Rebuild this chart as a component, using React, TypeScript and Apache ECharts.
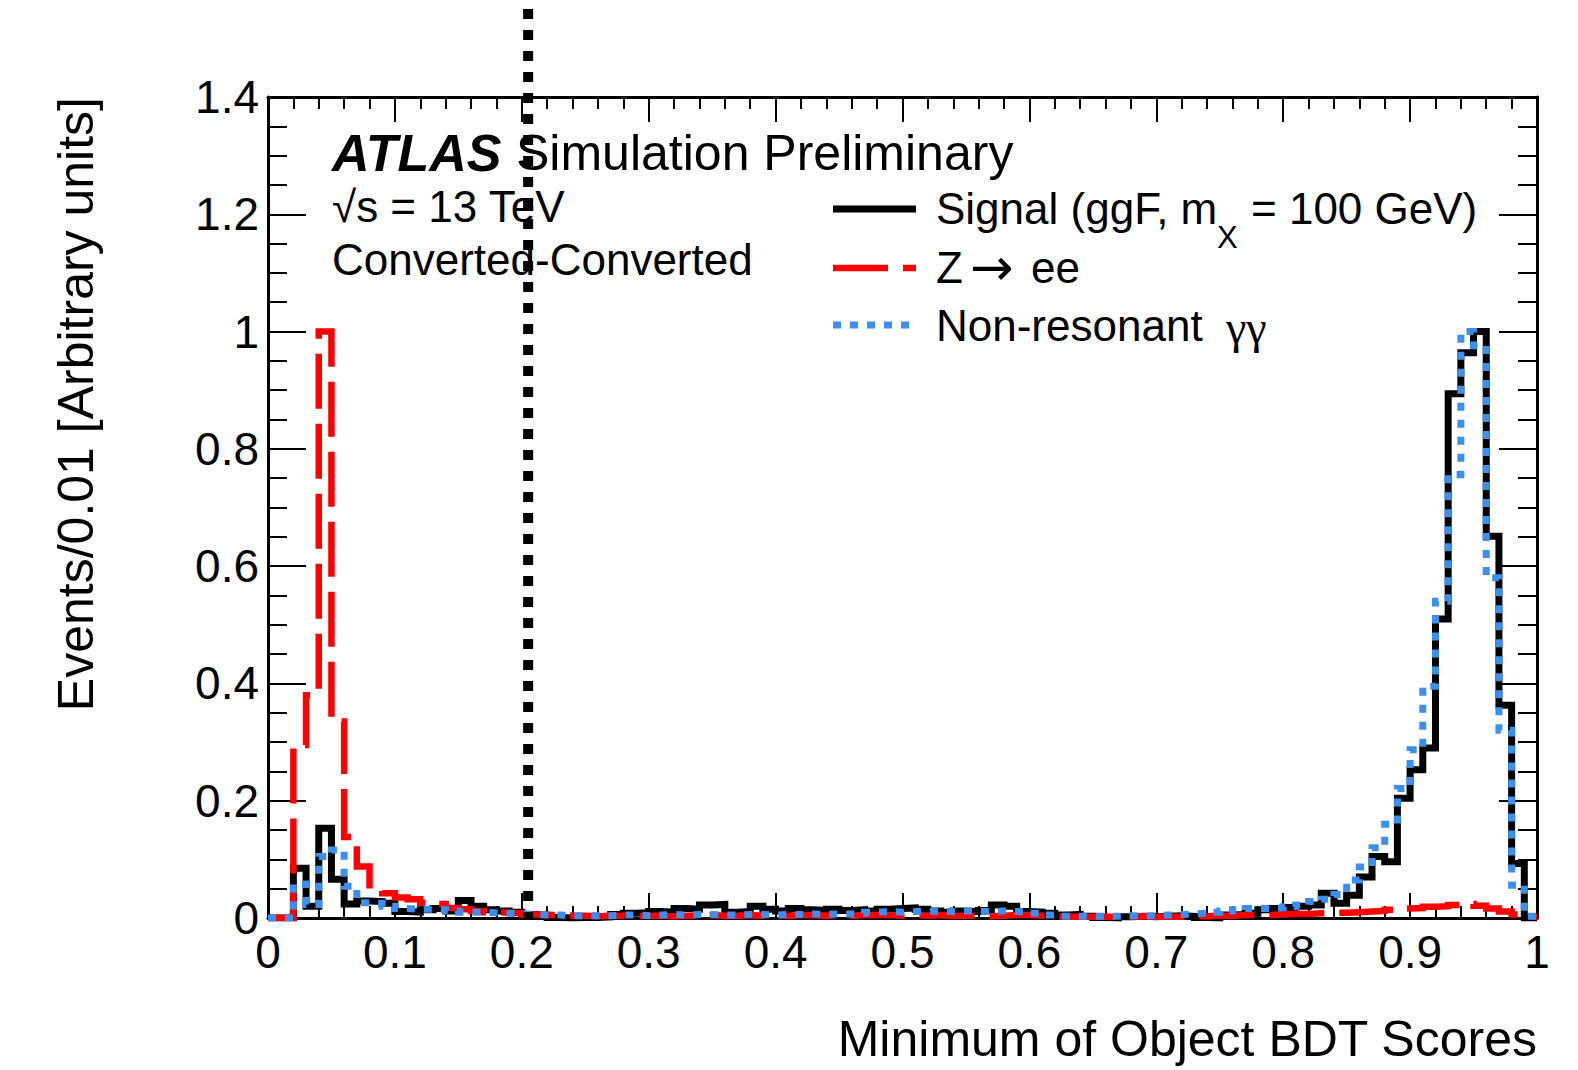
import React, { useEffect, useRef } from "react";
import * as echarts from "echarts";

// ---------- data ----------
const BIN_WIDTH = 0.01;
const X_MIN = 0;
const X_MAX = 1;
const X_INTERVAL = 0.1;
const Y_MIN = 0;
const Y_MAX = 1.4;
const Y_INTERVAL = 0.2;
const CUT_VALUE = 0.205;
const CUT_LINE_TOP = 1.55;

const seriesNames = ["Signal (ggF, m_X = 100 GeV)", "Z → ee", "Non-resonant γγ"];

const signalValues = [
  0, 0, 0.085, 0.02, 0.153, 0.066, 0.024, 0.029, 0.028, 0.025,
  0.011, 0.01, 0.014, 0.016, 0.012, 0.03, 0.02, 0.014, 0.012, 0.01,
  0.006, 0.005, 0.001, 0.0, 0.001, 0.001, 0.002, 0.006, 0.008, 0.009,
  0.011, 0.01, 0.016, 0.015, 0.022, 0.023, 0.01, 0.011, 0.02, 0.015,
  0.012, 0.016, 0.014, 0.013, 0.015, 0.013, 0.014, 0.012, 0.015, 0.016,
  0.017, 0.015, 0.012, 0.01, 0.012, 0.011, 0.013, 0.022, 0.02, 0.011,
  0.01, 0.008, 0.005, 0.006, 0.003, 0.001, 0.0, 0.002, 0.003, 0.002,
  0.003, 0.004, 0.003, 0.001, 0.0, 0.005, 0.006, 0.008, 0.014, 0.016,
  0.018, 0.02, 0.022, 0.042, 0.025, 0.039, 0.07, 0.105, 0.096, 0.204,
  0.253, 0.29, 0.51, 0.894, 0.964, 1.0, 0.651, 0.363, 0.093, 0.0,
];

const zeeValues = [
  0, 0, 0.295, 0.38, 1.0, 0.335, 0.138, 0.088, 0.05, 0.042,
  0.035, 0.032, 0.026, 0.024, 0.017, 0.015, 0.012, 0.01, 0.009, 0.008,
  0.006, 0.005, 0.005, 0.004, 0.004, 0.003, 0.004, 0.004, 0.003, 0.004,
  0.004, 0.003, 0.004, 0.004, 0.005, 0.004, 0.004, 0.005, 0.004, 0.005,
  0.004, 0.005, 0.005, 0.004, 0.005, 0.004, 0.005, 0.005, 0.005, 0.004,
  0.005, 0.004, 0.005, 0.004, 0.004, 0.004, 0.003, 0.004, 0.005, 0.005,
  0.004, 0.003, 0.002, 0.002, 0.002, 0.002, 0.002, 0.002, 0.003, 0.002,
  0.002, 0.002, 0.003, 0.003, 0.004, 0.004, 0.005, 0.005, 0.005, 0.006,
  0.007, 0.007, 0.008, 0.009, 0.009, 0.01, 0.011, 0.012, 0.014, 0.016,
  0.017, 0.019, 0.02, 0.022, 0.024, 0.021, 0.016, 0.011, 0.006, 0.002,
];

const nonresValues = [
  0, 0, 0.058, 0.023, 0.105, 0.116, 0.054, 0.026, 0.025, 0.02,
  0.016, 0.015, 0.015, 0.014, 0.012, 0.01, 0.01, 0.009, 0.008, 0.007,
  0.006, 0.005, 0.005, 0.004, 0.004, 0.004, 0.004, 0.005, 0.005, 0.004,
  0.005, 0.006, 0.005, 0.006, 0.006, 0.005, 0.005, 0.006, 0.006, 0.005,
  0.006, 0.006, 0.007, 0.006, 0.007, 0.007, 0.008, 0.01, 0.011, 0.01,
  0.011, 0.012, 0.011, 0.011, 0.012, 0.011, 0.011, 0.012, 0.011, 0.01,
  0.008, 0.005, 0.003, 0.003, 0.003, 0.003, 0.003, 0.004, 0.004, 0.004,
  0.005, 0.006, 0.007, 0.008, 0.01, 0.012, 0.014, 0.016, 0.016, 0.017,
  0.019, 0.022, 0.028, 0.032, 0.04, 0.065, 0.087, 0.12, 0.16, 0.221,
  0.287, 0.395, 0.54, 0.756, 1.0, 0.976, 0.58, 0.32, 0.056, 0.003,
];

// ---------- styling ----------
const FONT = "'Liberation Sans', Arial, Helvetica, sans-serif";
const SYMBOL_FONT = "'DejaVu Sans', 'Liberation Sans', sans-serif";
const GREEK_FONT = "'Liberation Serif', 'DejaVu Serif', serif";
const BLACK = "#000000";
const RED = "#ff0000";
const BLUE = "#3a8ff0";

function toSteps(values: number[]): number[][] {
  const pts = values.map((v, i) => [Number((i * BIN_WIDTH).toFixed(4)), v]);
  pts.push([X_MAX, values[values.length - 1]]);
  return pts;
}

function xAxisDef(position: "bottom" | "top", labels: boolean) {
  return {
    type: "value",
    position,
    min: X_MIN,
    max: X_MAX,
    interval: X_INTERVAL,
    axisLine: { show: true, onZero: false, lineStyle: { color: BLACK, width: 3 } },
    axisTick: { show: true, inside: true, length: 25, lineStyle: { color: BLACK, width: 2 } },
    minorTick: { show: true, splitNumber: 5, length: 12, lineStyle: { color: BLACK, width: 2 } },
    splitLine: { show: false },
    minorSplitLine: { show: false },
    axisLabel: {
      show: labels,
      color: BLACK,
      fontSize: 46,
      fontFamily: FONT,
      margin: 11,
      showMinLabel: true,
      showMaxLabel: true,
    },
  };
}

function yAxisDef(position: "left" | "right", labels: boolean) {
  return {
    type: "value",
    position,
    min: Y_MIN,
    max: Y_MAX,
    interval: Y_INTERVAL,
    axisLine: { show: true, onZero: false, lineStyle: { color: BLACK, width: 3 } },
    axisTick: { show: true, inside: true, length: 38, lineStyle: { color: BLACK, width: 2 } },
    minorTick: { show: true, splitNumber: 4, length: 19, lineStyle: { color: BLACK, width: 2 } },
    splitLine: { show: false },
    minorSplitLine: { show: false },
    axisLabel: {
      show: labels,
      color: BLACK,
      fontSize: 46,
      fontFamily: FONT,
      margin: 9,
      showMinLabel: true,
      showMaxLabel: true,
    },
  };
}

function histSeries(name: string, values: number[], color: string, width: number, dash: any, z: number) {
  return {
    name,
    type: "line",
    step: "end",
    data: toSteps(values),
    showSymbol: false,
    symbol: "none",
    xAxisIndex: 0,
    yAxisIndex: 0,
    z,
    lineStyle: { color, width, type: dash, cap: "butt", join: "miter" },
    emphasis: { disabled: true },
    silent: true,
  };
}

function textEl(text: string, x: number, y: number, size: number, extra: any = {}) {
  return {
    type: "text",
    x,
    y,
    z: 50,
    silent: true,
    style: {
      text,
      fill: BLACK,
      fontFamily: FONT,
      fontSize: size,
      textAlign: "left",
      textVerticalAlign: "middle",
      align: "left",
      verticalAlign: "middle",
      ...extra,
    },
  };
}

export default function App() {
  const ref = useRef<HTMLDivElement | null>(null);

  useEffect(() => {
    if (!ref.current) return;
    const chart = echarts.init(ref.current, null, { renderer: "svg" });

    chart.setOption({
      animation: false,
      backgroundColor: "#ffffff",
      grid: { left: 268, right: 41, top: 97, bottom: 152, containLabel: false },
      xAxis: [xAxisDef("bottom", true), xAxisDef("top", false)],
      yAxis: [yAxisDef("left", true), yAxisDef("right", false)],
      series: [
        histSeries(seriesNames[0], signalValues, BLACK, 7, "solid", 2),
        histSeries(seriesNames[1], zeeValues, RED, 6.5, [55, 15], 3),
        histSeries(seriesNames[2], nonresValues, BLUE, 7, [8, 9], 4),
      ],
    });

    const p0 = chart.convertToPixel({ xAxisIndex: 0, yAxisIndex: 0 }, [CUT_VALUE, 0]) as number[];
    const p1 = chart.convertToPixel({ xAxisIndex: 0, yAxisIndex: 0 }, [CUT_VALUE, CUT_LINE_TOP]) as number[];

    const legendX1 = 833;
    const legendX2 = 916;
    const legendTextX = 936;

    const graphics: any[] = [
      // ATLAS label
      textEl("ATLAS", 332, 153, 52, { fontWeight: "bold", fontStyle: "italic" }),
      textEl("Simulation Preliminary", 516, 153, 50),
      textEl("√s = 13 TeV", 332, 206, 44),
      textEl("Converted-Converted", 332, 259, 44),
      // legend
      {
        type: "line", z: 50, silent: true,
        shape: { x1: legendX1, y1: 209, x2: legendX2, y2: 209 },
        style: { stroke: BLACK, lineWidth: 7 },
      },
      {
        type: "line", z: 50, silent: true,
        shape: { x1: legendX1, y1: 268, x2: legendX2, y2: 268 },
        style: { stroke: RED, lineWidth: 6.5, lineDash: [55, 15] },
      },
      {
        type: "line", z: 50, silent: true,
        shape: { x1: legendX1, y1: 325, x2: legendX2, y2: 325 },
        style: { stroke: BLUE, lineWidth: 7, lineDash: [8, 9] },
      },
      textEl("Signal (ggF, m", legendTextX, 208, 44),
      textEl("X", 1217, 237, 31),
      textEl("= 100 GeV)", 1251, 208, 44),
      textEl("Z", legendTextX, 267, 44),
      textEl("→", 970, 267, 52, { fontFamily: SYMBOL_FONT }),
      textEl("ee", 1031, 267, 44),
      textEl("Non-resonant", legendTextX, 325, 44),
      textEl("γγ", 1226, 327, 46, { fontFamily: GREEK_FONT }),
      // axis titles
      {
        type: "text", z: 50, silent: true,
        x: 76, y: 97, rotation: Math.PI / 2,
        style: {
          text: "Events/0.01 [Arbitrary units]",
          fill: BLACK, fontFamily: FONT, fontSize: 50,
          align: "right", verticalAlign: "middle",
          textAlign: "right", textVerticalAlign: "middle",
        },
      },
      textEl("Minimum of Object BDT Scores", 1537, 1039, 50, { align: "right", textAlign: "right" }),
      // cut line
      {
        type: "line", z: 100, silent: true,
        shape: { x1: p0[0], y1: p1[1], x2: p0[0], y2: p0[1] },
        style: { stroke: BLACK, lineWidth: 10, lineDash: [10, 11] },
      },
    ];

    chart.setOption({ graphic: graphics });

    return () => {
      chart.dispose();
    };
  }, []);

  return (
    <div
      ref={ref}
      style={{ position: "fixed", left: 0, top: 0, width: 1578, height: 1070, background: "#fff" }}
    />
  );
}
